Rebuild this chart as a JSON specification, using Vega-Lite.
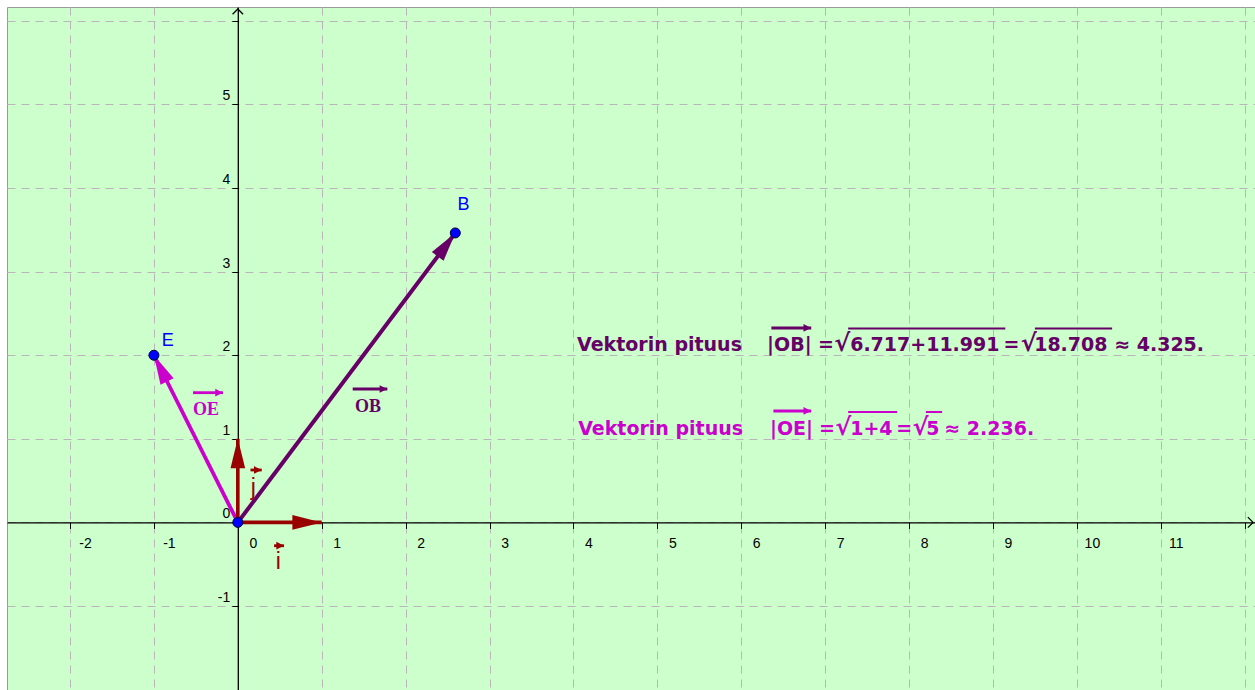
{
"$schema":"https://vega.github.io/schema/vega-lite/v6.json",
"width":1248,"height":683,
"autosize":{"type":"none"},
"padding":{"left":7,"top":7,"right":0,"bottom":0},
"background":"#ffffff",
"config":{
 "view":{"fill":"#ccffcc","stroke":"#9a9a9a","strokeWidth":1},
 "axis":{"grid":true,"gridColor":"#bcb4bc","gridDash":[8,6],"gridWidth":1,"domainColor":"#000000","domainWidth":1.3,"tickColor":"#000000","tickSize":6,"tickWidth":1,"labelColor":"#000000","labelFont":"Liberation Sans","labelFontSize":14,"labelFlush":false,"labelOverlap":false}
},
"datasets":{
 "vectors":[
  {"name":"OB","g":"OB","x0":0,"y0":0,"x1":2.592,"y1":3.463,"heading":36.9},
  {"name":"OE","g":"OE","x0":0,"y0":0,"x1":-1,"y1":2,"heading":333.3},
  {"name":"i","g":"ij","x0":0,"y0":0,"x1":1,"y1":0,"heading":90},
  {"name":"j","g":"ij","x0":0,"y0":0,"x1":0,"y1":1,"heading":0}
 ],
 "axisArrows":[{"axis":"x","x":12.1,"y":0,"heading":90},{"axis":"y","x":0,"y":6.143,"heading":0}],
 "points":[{"name":"O","x":0,"y":0},{"name":"B","x":2.592,"y":3.463},{"name":"E","x":-1,"y":2}],
 "pointLabels":[{"text":"B","x":2.69,"y":3.737},{"text":"E","x":-0.834,"y":2.11}],
 "vectorLabels":[{"text":"OE","g":"OE","x":-0.379,"y":1.285},{"text":"OB","g":"OB","x":1.551,"y":1.321}],
 "unitLabels":[{"text":"i","g":"ij","x":0.483,"y":-0.558},{"text":"j","g":"ij","x":0.185,"y":0.328}],
 "hats":[
  {"g":"OB","x":6.359,"x2":6.834,"y":2.326},
  {"g":"OE","x":6.383,"x2":6.834,"y":1.333},
  {"g":"OE","x":-0.534,"x2":-0.177,"y":1.552},
  {"g":"OB","x":1.369,"x2":1.782,"y":1.596},
  {"g":"ij","x":0.432,"x2":0.551,"y":-0.279},
  {"g":"ij","x":0.151,"x2":0.285,"y":0.627}
 ],
 "formula":[
  {"g":"OB","text":"Vektorin pituus","x":4.043,"y":2.051},
  {"g":"OB","text":"|OB|","x":6.308,"y":2.051},
  {"g":"OB","text":"=","x":6.916,"y":2.051},
  {"g":"OB","text":"6.717+11.991","x":7.298,"y":2.051},
  {"g":"OB","text":"=","x":9.125,"y":2.051},
  {"g":"OB","text":"18.708","x":9.491,"y":2.051},
  {"g":"OB","text":"≈ 4.325.","x":10.445,"y":2.051},
  {"g":"OE","text":"Vektorin pituus","x":4.056,"y":1.046},
  {"g":"OE","text":"|OE|","x":6.342,"y":1.046},
  {"g":"OE","text":"=","x":6.928,"y":1.046},
  {"g":"OE","text":"1+4","x":7.298,"y":1.046},
  {"g":"OE","text":"=","x":7.846,"y":1.046},
  {"g":"OE","text":"5","x":8.205,"y":1.046},
  {"g":"OE","text":"≈ 2.236.","x":8.42,"y":1.046}
 ],
 "radicals":[
  {"g":"OB","text":"√","x":7.107,"y":2.051},
  {"g":"OB","text":"√","x":9.33,"y":2.051},
  {"g":"OE","text":"√","x":7.119,"y":1.046},
  {"g":"OE","text":"√","x":8.04,"y":1.046}
 ],
 "overlines":[
  {"g":"OB","x":7.274,"x2":9.147,"y":2.32},
  {"g":"OB","x":9.5,"x2":10.42,"y":2.32},
  {"g":"OE","x":7.274,"x2":7.858,"y":1.321},
  {"g":"OE","x":8.2,"x2":8.394,"y":1.321}
 ]
},
"layer":[
 {
  "data":{"name":"vectors"},
  "mark":{"type":"rule","strokeCap":"butt"},
  "encoding":{
   "x":{"field":"x0","type":"quantitative","title":null,"scale":{"domain":[-2.751,12.123],"nice":false,"zero":false},
        "axis":{"orient":"bottom","offset":-167.6,"values":[-2,-1,0,1,2,3,4,5,6,7,8,9,10,11,12],"labelAlign":"center","labelOffset":15,"labelPadding":19,"labelBaseline":"alphabetic","labelExpr":"datum.value > 11 ? '' : '' + datum.value","title":null}},
   "y":{"field":"y0","type":"quantitative","title":null,"scale":{"domain":[-2.005,6.166],"nice":false,"zero":false},
        "axis":{"orient":"left","offset":-230.8,"values":[-2,-1,0,1,2,3,4,5,6],"labelAlign":"right","labelBaseline":"alphabetic","labelOffset":-4.5,"labelPadding":2,"labelExpr":"datum.value > 5 || datum.value < -1 ? '' : '' + datum.value","title":null}},
   "x2":{"field":"x1"},
   "y2":{"field":"y1"},
   "color":{"field":"g","type":"nominal","scale":{"domain":["OB","OE","ij"],"range":["#660066","#cc00cc","#990000"]},"legend":null},
   "strokeWidth":{"field":"g","type":"nominal","scale":{"domain":["OB","OE","ij"],"range":[4,3.6,5]},"legend":null}
  }
 },
 {
  "data":{"name":"vectors"},
  "mark":{"type":"point","shape":"M0,0 L-0.5,2 L0.5,2 Z","filled":true,"size":860,"opacity":1,"strokeWidth":0},
  "encoding":{
   "x":{"field":"x1","type":"quantitative","title":null},
   "y":{"field":"y1","type":"quantitative","title":null},
   "angle":{"field":"heading","type":"quantitative","scale":null},
   "color":{"field":"g","type":"nominal","scale":{"domain":["OB","OE","ij"],"range":["#660066","#cc00cc","#990000"]},"legend":null}
  }
 },
 {
  "data":{"name":"axisArrows"},
  "mark":{"type":"point","shape":"M-1,1 L0,0 L1,1","filled":false,"size":110,"opacity":1,"color":"#000000","strokeWidth":1.3},
  "encoding":{
   "x":{"field":"x","type":"quantitative","title":null},
   "y":{"field":"y","type":"quantitative","title":null},
   "angle":{"field":"heading","type":"quantitative","scale":null}
  }
 },
 {
  "data":{"name":"points"},
  "mark":{"type":"point","shape":"circle","filled":true,"fill":"#0000ff","stroke":"#000033","strokeWidth":1,"size":100,"opacity":1},
  "encoding":{
   "x":{"field":"x","type":"quantitative","title":null},
   "y":{"field":"y","type":"quantitative","title":null}
  }
 },
 {
  "data":{"name":"pointLabels"},
  "mark":{"type":"text","font":"Liberation Sans","fontSize":18,"align":"center","baseline":"alphabetic","color":"#0000ff"},
  "encoding":{
   "x":{"field":"x","type":"quantitative","title":null},
   "y":{"field":"y","type":"quantitative","title":null},
   "text":{"field":"text"}
  }
 },
 {
  "data":{"name":"vectorLabels"},
  "mark":{"type":"text","font":"Liberation Serif","fontSize":18,"fontWeight":"bold","align":"center","baseline":"alphabetic"},
  "encoding":{
   "x":{"field":"x","type":"quantitative","title":null},
   "y":{"field":"y","type":"quantitative","title":null},
   "text":{"field":"text"},
   "color":{"field":"g","type":"nominal","scale":{"domain":["OB","OE","ij"],"range":["#660066","#cc00cc","#990000"]},"legend":null}
  }
 },
 {
  "data":{"name":"unitLabels"},
  "mark":{"type":"text","font":"Liberation Sans","fontSize":23,"align":"center","baseline":"alphabetic"},
  "encoding":{
   "x":{"field":"x","type":"quantitative","title":null},
   "y":{"field":"y","type":"quantitative","title":null},
   "text":{"field":"text"},
   "color":{"field":"g","type":"nominal","scale":{"domain":["OB","OE","ij"],"range":["#660066","#cc00cc","#990000"]},"legend":null}
  }
 },
 {
  "data":{"name":"hats"},
  "mark":{"type":"rule","strokeWidth":2.8,"strokeCap":"butt"},
  "encoding":{
   "x":{"field":"x","type":"quantitative","title":null},
   "x2":{"field":"x2"},
   "y":{"field":"y","type":"quantitative","title":null},
   "color":{"field":"g","type":"nominal","scale":{"domain":["OB","OE","ij"],"range":["#660066","#cc00cc","#990000"]},"legend":null}
  }
 },
 {
  "data":{"name":"hats"},
  "mark":{"type":"point","shape":"M0,0 L-1,2 L1,2 Z","filled":true,"size":60,"opacity":1,"strokeWidth":0,"angle":90},
  "encoding":{
   "x":{"field":"x2","type":"quantitative","title":null},
   "y":{"field":"y","type":"quantitative","title":null},
   "color":{"field":"g","type":"nominal","scale":{"domain":["OB","OE","ij"],"range":["#660066","#cc00cc","#990000"]},"legend":null}
  }
 },
 {
  "data":{"name":"formula"},
  "mark":{"type":"text","font":"DejaVu Sans","fontSize":19,"fontWeight":"bold","align":"left","baseline":"alphabetic"},
  "encoding":{
   "x":{"field":"x","type":"quantitative","title":null},
   "y":{"field":"y","type":"quantitative","title":null},
   "text":{"field":"text"},
   "color":{"field":"g","type":"nominal","scale":{"domain":["OB","OE","ij"],"range":["#660066","#cc00cc","#990000"]},"legend":null}
  }
 },
 {
  "data":{"name":"radicals"},
  "mark":{"type":"text","font":"DejaVu Sans","fontSize":24,"fontWeight":"bold","align":"left","baseline":"alphabetic"},
  "encoding":{
   "x":{"field":"x","type":"quantitative","title":null},
   "y":{"field":"y","type":"quantitative","title":null},
   "text":{"field":"text"},
   "color":{"field":"g","type":"nominal","scale":{"domain":["OB","OE","ij"],"range":["#660066","#cc00cc","#990000"]},"legend":null}
  }
 },
 {
  "data":{"name":"overlines"},
  "mark":{"type":"rule","strokeWidth":2,"strokeCap":"butt"},
  "encoding":{
   "x":{"field":"x","type":"quantitative","title":null},
   "x2":{"field":"x2"},
   "y":{"field":"y","type":"quantitative","title":null},
   "color":{"field":"g","type":"nominal","scale":{"domain":["OB","OE","ij"],"range":["#660066","#cc00cc","#990000"]},"legend":null}
  }
 }
]
}
